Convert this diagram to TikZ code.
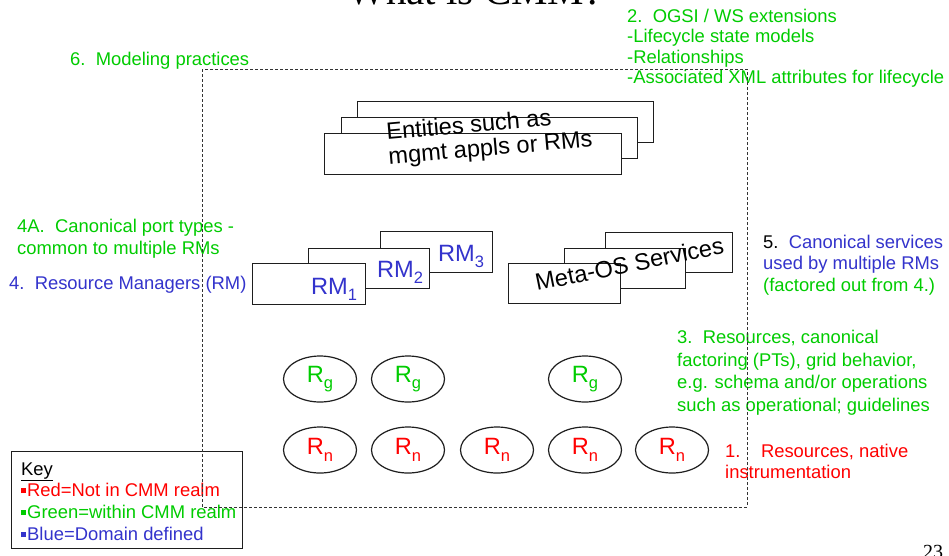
\documentclass[tikz,border=0pt]{standalone}
\usepackage{fontspec}
\setmainfont{Liberation Sans}
\newfontfamily\titlefont{Liberation Serif}
\usetikzlibrary{shapes.geometric}
\definecolor{cmmred}{RGB}{255,0,0}
\definecolor{cmmgreen}{RGB}{0,204,0}
\definecolor{cmmblue}{RGB}{51,51,204}
\definecolor{boxline}{RGB}{30,30,30}
\newcommand\bodysize{\fontsize{18.4}{20.5}\selectfont}
\newcommand\bigsize{\fontsize{23.6}{26}\selectfont}
\newcommand\subsz[1]{\raisebox{-6.5pt}{\fontsize{16.5}{16.5}\selectfont #1}}
\newcommand\keymark{\raisebox{3pt}{\rule{5pt}{5pt}}\hspace{1pt}}

\begin{document}
\begin{tikzpicture}[x=1pt,y=-1pt,
  txt/.style={font=\bodysize, inner sep=0pt, anchor=base west},
  bigtxt/.style={font=\bigsize, inner sep=0pt, anchor=base west},
  stackbox/.style={draw=boxline, line width=1.3pt, fill=white, inner sep=0pt, anchor=north west},
  res/.style={ellipse, draw=boxline, line width=1.2pt, minimum width=73pt, minimum height=46pt, inner sep=0pt, font=\bigsize},
  realm/.style={draw=black!80, line width=1pt, dash pattern=on 3pt off 2pt}]

% canvas
\fill[white] (0,0) rectangle (949,555);
\useasboundingbox (0,0) rectangle (949,555);

% title and page number
\node[font=\titlefont\fontsize{41}{45}\selectfont, inner sep=0pt, anchor=base] (title) at (475,4) {What is CMM?};
\node[font=\titlefont\fontsize{20}{22}\selectfont, inner sep=0pt, anchor=base west] (pageno) at (923,558.5) {23};

% stack of entities
\node[stackbox, minimum width=296pt, minimum height=41pt] (ent3) at (357,101) {};
\node[stackbox, minimum width=296pt, minimum height=41pt] (ent2) at (341,117) {};
\node[stackbox, minimum width=297pt, minimum height=41pt] (ent1) at (324,133) {};
\node[bigtxt, rotate=5] (entA) at (387,140) {Entities such as};
\node[bigtxt, rotate=5] (entB) at (389,164.5) {mgmt appls or RMs};

% resource managers
\node[stackbox, minimum width=112pt, minimum height=41pt] (rmbox3) at (380,231) {};
\node[stackbox, minimum width=121pt, minimum height=40pt] (rmbox2) at (308,248) {};
\node[stackbox, minimum width=113pt, minimum height=41pt] (rmbox1) at (252,263) {};
\node[bigtxt, text=cmmblue] (rm3) at (438,261) {RM\subsz{3}};
\node[bigtxt, text=cmmblue] (rm2) at (377,277) {RM\subsz{2}};
\node[bigtxt, text=cmmblue] (rm1) at (311,294) {RM\subsz{1}};

% meta-OS services
\node[stackbox, minimum width=127pt, minimum height=40pt] (osbox3) at (605,232) {};
\node[stackbox, minimum width=121pt, minimum height=40pt] (osbox2) at (564,248) {};
\node[stackbox, minimum width=112pt, minimum height=40pt] (osbox1) at (508,263) {};
\node[bigtxt, rotate=11.4] (metaos) at (537,291) {Meta-OS Services};

% grid resources
\node[res, text=cmmgreen] (rg1) at (320,379) {R\subsz{g}};
\node[res, text=cmmgreen] (rg2) at (408,379) {R\subsz{g}};
\node[res, text=cmmgreen] (rg3) at (585,379) {R\subsz{g}};

% native resources
\node[res, text=cmmred] (rn1) at (320,450) {R\subsz{n}};
\node[res, text=cmmred] (rn2) at (408,450) {R\subsz{n}};
\node[res, text=cmmred] (rn3) at (497,450) {R\subsz{n}};
\node[res, text=cmmred] (rn4) at (585,450) {R\subsz{n}};
\node[res, text=cmmred] (rn5) at (672,450) {R\subsz{n}};

% annotations
\node[txt, text=cmmgreen] (n6) at (70,65) {6.\ \ Modeling practices};

\node[txt, text=cmmgreen] (n2a) at (627,22) {2.\ \ OGSI / WS extensions};
\node[txt, text=cmmgreen] (n2b) at (627,42.5) {-Lifecycle state models};
\node[txt, text=cmmgreen] (n2c) at (627,63) {-Relationships};
\node[txt, text=cmmgreen] (n2d) at (627,83.5) {-Associated XML attributes for lifecycle};

\node[txt, text=cmmgreen] (n4aa) at (17,232) {4A.\ \ Canonical port types -};
\node[txt, text=cmmgreen] (n4ab) at (17,254) {common to multiple RMs};
\node[txt, text=cmmblue] (n4) at (9,289) {4.\ \ Resource Managers (RM)};

\node[txt] (n5a) at (763,248) {5.\ \ \textcolor{cmmblue}{Canonical services}};
\node[txt, text=cmmblue] (n5b) at (763,269.5) {used by multiple RMs};
\node[txt, text=cmmgreen] (n5c) at (763,291) {(factored out from 4.)};

\node[txt, text=cmmgreen] (n3a) at (677,343) {3.\ \ Resources, canonical};
\node[txt, text=cmmgreen] (n3b) at (677,366) {factoring (PTs), grid behavior,};
\node[txt, text=cmmgreen] (n3c) at (677,388) {e.g. schema and/or operations};
\node[txt, text=cmmgreen] (n3d) at (677,411) {such as operational; guidelines};

\node[txt, text=cmmred] (n1a) at (725,457) {1.\ \ \ \ Resources, native};
\node[txt, text=cmmred] (n1b) at (725,478) {instrumentation};

% key
\node[draw=boxline, line width=1pt, minimum width=231pt, minimum height=97pt, inner sep=0pt, anchor=north west] (keybox) at (11,451) {};
\node[txt] (keyhead) at (21,475) {\underline{Key}};
\node[txt, text=cmmred] (keyred) at (21,496) {\keymark Red=Not in CMM realm};
\node[txt, text=cmmgreen] (keygreen) at (21,518) {\keymark Green=within CMM realm};
\node[txt, text=cmmblue] (keyblue) at (21,540) {\keymark Blue=Domain defined};

% CMM realm boundary
\draw[realm] (202,69) rectangle (747,507);
\end{tikzpicture}
\end{document}
